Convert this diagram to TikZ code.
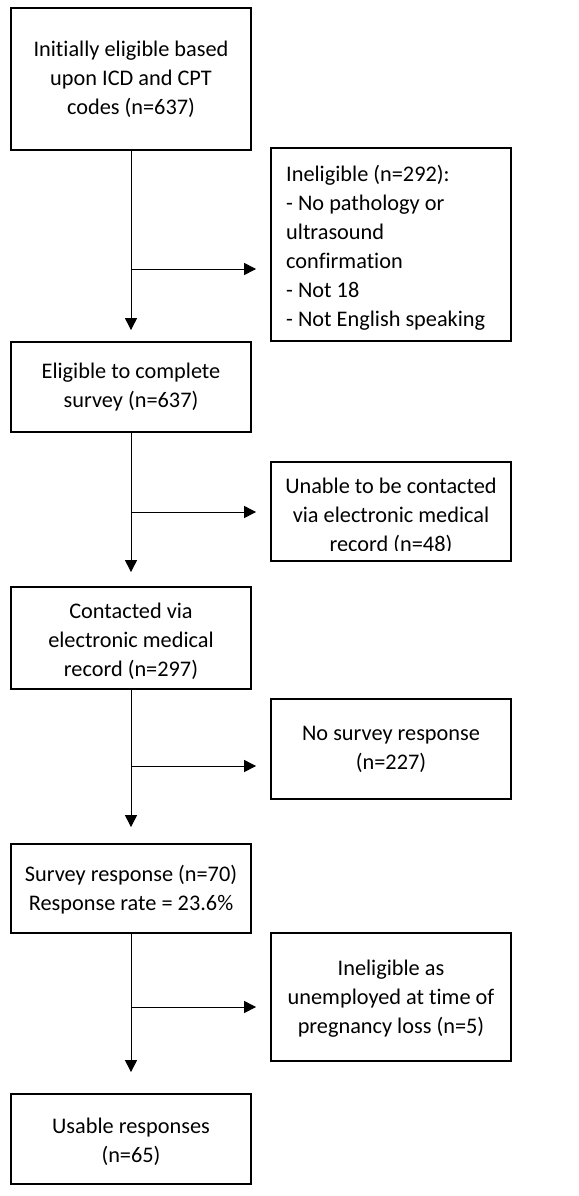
\documentclass[tikz,border=0pt]{standalone}
\usepackage{fontspec}
\setmainfont{Carlito}[Ligatures=NoCommon]
\usetikzlibrary{arrows.meta}
\begin{document}
\begin{tikzpicture}[x=1pt,y=-1pt,
  box/.style={draw, line width=1.8pt, rectangle, minimum width=240pt, inner sep=0pt, align=center, font=\fontsize{22.3}{29}\selectfont},
  txt/.style={inner sep=0pt, align=center, font=\fontsize{22.3}{29}\selectfont},
  arr/.style={line width=1pt, -{Triangle[length=12pt,width=12pt]}},
  ln/.style={line width=1pt}]
\useasboundingbox (0,0) rectangle (578,1196);
\node[box, minimum height=142pt] (b1) at (131,79) {Initially eligible based\\upon ICD and CPT\\codes (n=637)};
\node[box, minimum height=193pt] (b2) at (391,244.5) {};
\node[txt, align=left, anchor=west] (t2) at (286,248) {Ineligible (n=292):\\- No pathology or\\ultrasound\\confirmation\\- Not 18\\- Not English speaking};
\node[box, minimum height=90pt] (b3) at (131,387) {Eligible to complete\\survey (n=637)};
\node[box, minimum height=99pt] (b4) at (391,511.5) {};
\begin{scope}
\clip (272,463) rectangle (510,550);
\node[txt] (t4) at (391,516) {Unable to be contacted\\via electronic medical\\record (n=48)};
\end{scope}
\node[box, minimum height=102pt] (b5) at (131,638) {};
\node[txt] (t5) at (131,641) {Contacted via\\electronic medical\\record (n=297)};
\node[box, minimum height=100pt] (b6) at (391,749) {No survey response\\(n=227)};
\node[box, minimum height=89pt] (b7) at (131,888.5) {};
\node[txt] (t7) at (131,890) {Survey response (n=70)\\Response rate = 23.6\%};
\node[box, minimum height=128pt] (b8) at (391,997) {};
\node[txt] (t8) at (391,999) {Ineligible as\\unemployed at time of\\pregnancy loss (n=5)};
\node[box, minimum height=90pt] (b9) at (131,1139) {};
\node[txt] (t9) at (131,1142) {Usable responses\\(n=65)};
% main flow
\draw[arr, shorten >=11pt] (b1.south) -- (b3.north);
\draw[arr, shorten >=14pt] (b3.south) -- (b5.north);
\draw[arr, shorten >=16pt] (b5.south) -- (b7.north);
\draw[arr, shorten >=21pt] (b7.south) -- (b9.north);
% side branches
\coordinate (j1) at (131,269);
\coordinate (j2) at (131,512);
\coordinate (j3) at (131,766);
\coordinate (j4) at (131,1007);
\draw[arr, shorten >=14pt] (j1) -- (j1 -| b2.west);
\draw[arr, shorten >=14pt] (j2) -- (j2 -| b4.west);
\draw[arr, shorten >=14pt] (j3) -- (j3 -| b6.west);
\draw[arr, shorten >=14pt] (j4) -- (j4 -| b8.west);
\end{tikzpicture}
\end{document}
